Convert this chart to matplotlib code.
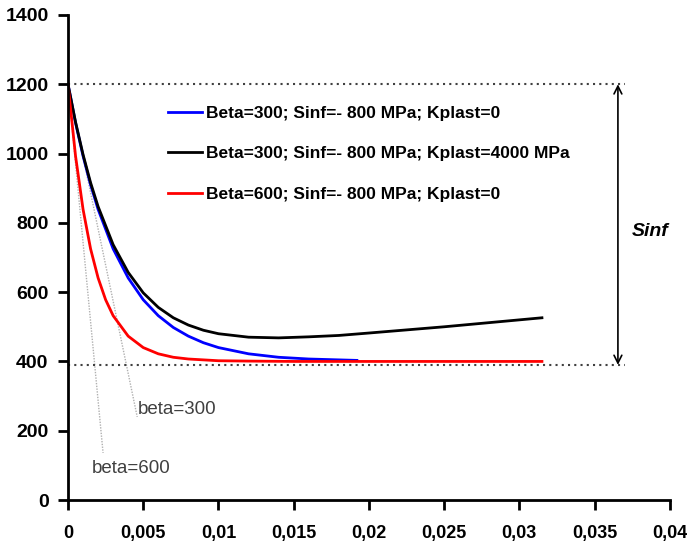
#!/usr/bin/env python3
"""Stress vs plastic strain curves for two beta values and a hardening case."""

import matplotlib
matplotlib.use("Agg")
import matplotlib.pyplot as plt
from matplotlib.ticker import FuncFormatter, MultipleLocator

# values
eps_blue = [0, 0.0005, 0.001, 0.0015, 0.002, 0.003, 0.004, 0.005, 0.006, 0.007,
            0.008, 0.009, 0.010, 0.012, 0.014, 0.016, 0.0192]
sig_blue = [1200, 1089, 993, 910, 839, 725, 641, 578, 532, 498,
            473, 454, 440, 422, 412, 407, 403]

eps_black = [0, 0.0005, 0.001, 0.0015, 0.002, 0.003, 0.004, 0.005, 0.006, 0.007,
             0.008, 0.009, 0.010, 0.012, 0.014, 0.016, 0.018, 0.020, 0.025, 0.0315]
sig_black = [1200, 1091, 997, 916, 847, 737, 657, 598, 556, 526,
             505, 490, 480, 470, 468, 471, 475, 482, 500, 526]

eps_red = [0, 0.0005, 0.001, 0.0015, 0.002, 0.0025, 0.003, 0.004, 0.005, 0.006,
           0.007, 0.008, 0.010, 0.012, 0.015, 0.020, 0.0315]
sig_red = [1200, 993, 839, 725, 641, 578, 532, 473, 440, 422,
           412, 407, 402, 401, 400, 400, 400]

labels = [
    "Beta=300; Sinf=- 800 MPa; Kplast=0",
    "Beta=300; Sinf=- 800 MPa; Kplast=4000 MPa",
    "Beta=600; Sinf=- 800 MPa; Kplast=0",
]

# initial-slope guide lines (start, end)
tan300_x = [0, 0.0046]
tan300_y = [1200, 240]
tan600_x = [0, 0.00233]
tan600_y = [1200, 136]

s_top = 1200
s_bottom = 390
guide_end = 0.037
arrow_x = 0.03655

plt.rcParams["font.family"] = ["Liberation Sans", "DejaVu Sans"]

fig = plt.figure(figsize=(6.87, 5.47), dpi=100)
ax = fig.add_axes([0.099, 0.0859, 0.876, 0.8867])

ax.plot(tan300_x, tan300_y, color="#b0b0b0", lw=1, ls=(0, (1, 1)))
ax.plot(tan600_x, tan600_y, color="#b0b0b0", lw=1, ls=(0, (1, 1)))

ax.plot([0, guide_end], [s_top, s_top], color="#404040", lw=1.5, ls=(0, (1, 2)))
ax.plot([0, guide_end], [s_bottom, s_bottom], color="#404040", lw=1.5, ls=(0, (1, 2)))

l1, = ax.plot(eps_blue, sig_blue, color="#0000ff", lw=2)
l2, = ax.plot(eps_black, sig_black, color="black", lw=2)
l3, = ax.plot(eps_red, sig_red, color="#ff0000", lw=2)

ax.annotate("", xy=(arrow_x, s_bottom), xytext=(arrow_x, s_top),
            arrowprops=dict(arrowstyle="<->", color="black", lw=1.2,
                            shrinkA=0, shrinkB=0, mutation_scale=14))
ax.text(0.0375, 775, "Sinf", fontsize=14, fontweight="bold", style="italic",
        ha="left", va="center")

ax.text(0.00465, 260, "beta=300", fontsize=13.5, color="#404040", ha="left", va="center")
ax.text(0.0016, 92, "beta=600", fontsize=13.5, color="#404040", ha="left", va="center")

leg = ax.legend([l1, l2, l3], labels, loc="upper left", bbox_to_anchor=(0.14, 0.845),
                frameon=False, handlelength=1.95, handletextpad=0.25, labelspacing=1.45,
                prop={"weight": "bold", "size": 12.5})

ax.set_xlim(0, 0.04)
ax.set_ylim(0, 1400)
ax.xaxis.set_major_locator(MultipleLocator(0.005))
ax.yaxis.set_major_locator(MultipleLocator(200))
ax.xaxis.set_major_formatter(FuncFormatter(lambda v, p: f"{v:g}".replace(".", ",")))

for side in ["top", "right"]:
    ax.spines[side].set_visible(False)
for side in ["left", "bottom"]:
    ax.spines[side].set_linewidth(2)

ax.tick_params(axis="both", direction="out", length=7, width=2)
ax.tick_params(axis="x", pad=11, labelsize=13)
ax.tick_params(axis="y", pad=7, labelsize=14)
for t in ax.get_xticklabels() + ax.get_yticklabels():
    t.set_fontweight("bold")

fig.savefig("out.png", dpi=100)
